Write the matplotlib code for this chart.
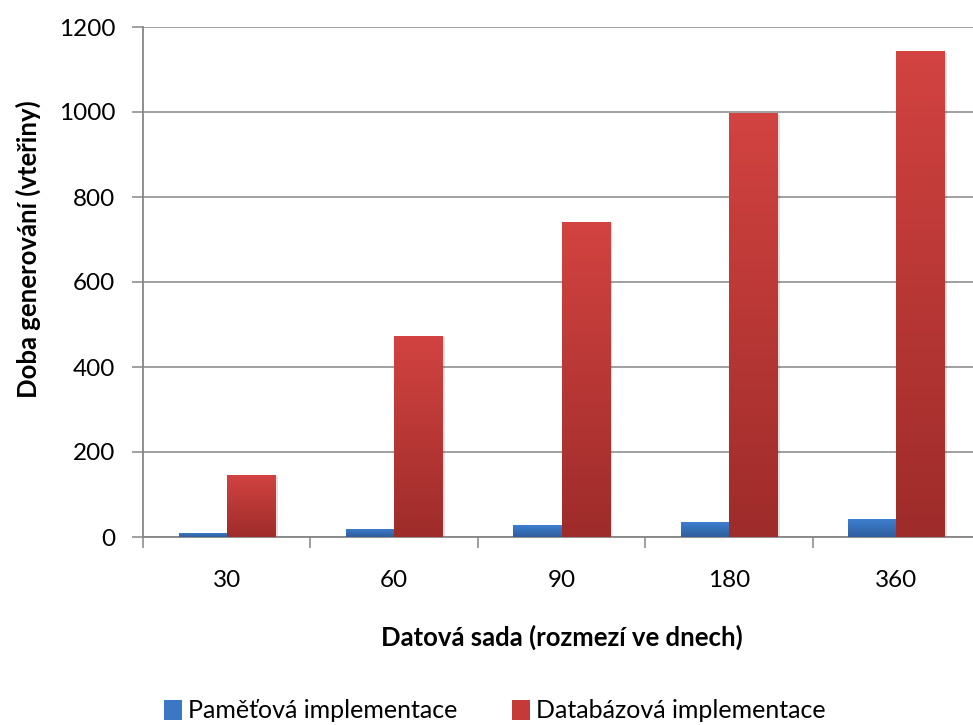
import numpy as np
import matplotlib
matplotlib.use("Agg")
import matplotlib.pyplot as plt
from matplotlib.colors import LinearSegmentedColormap
from matplotlib.patches import Patch
import matplotlib.patheffects as pe

plt.rcParams["font.family"] = ["Lato", "DejaVu Sans"]

categories = ["30", "60", "90", "180", "360"]
pametova = [10, 19, 28, 35, 42]
databazova = [146, 473, 741, 997, 1143]

series_names = ["Paměťová implementace", "Databázová implementace"]
blue_grad = ["#3d7fd0", "#2f5e9c"]
red_grad = ["#d24341", "#9e2c2a"]

AXIS_GRAY = "#868686"


def gradient_bars(ax, bars, colors):
    cmap = LinearSegmentedColormap.from_list("g", [colors[1], colors[0]])
    grad = np.linspace(0, 1, 256).reshape(-1, 1)
    for bar in bars:
        x0, y0 = bar.get_x(), bar.get_y()
        w, h = bar.get_width(), bar.get_height()
        bar.set_facecolor("none")
        bar.set_edgecolor("none")
        img = ax.imshow(grad, cmap=cmap, aspect="auto", origin="lower",
                        extent=(x0, x0 + w, y0, y0 + h), zorder=3,
                        interpolation="bilinear")
        img.set_clip_path(bar)


fig = plt.figure(figsize=(9.73, 7.25), dpi=100)
ax = fig.add_axes([143 / 973, 1 - 537 / 725, 837 / 973, 510 / 725])

x = np.arange(len(categories))
w = 0.287
b1 = ax.bar(x - w / 2, pametova, w, zorder=3)
b2 = ax.bar(x + w / 2, databazova, w, zorder=3)

# soft shadow behind the bars
for bars in (b1, b2):
    for bar in bars:
        sh = plt.Rectangle((bar.get_x(), 0), bar.get_width(), bar.get_height(),
                           facecolor="white", edgecolor="none", zorder=2.5,
                           path_effects=[pe.SimplePatchShadow(offset=(2, -1), shadow_rgbFace="#000000", alpha=0.12)])
        ax.add_patch(sh)

gradient_bars(ax, b1, blue_grad)
gradient_bars(ax, b2, red_grad)

ax.set_xlim(-0.5, len(categories) - 0.5)
ax.set_ylim(0, 1200)
ax.set_yticks(np.arange(0, 1201, 200))
ax.yaxis.grid(True, color=AXIS_GRAY, linewidth=1.1, zorder=0)
ax.set_axisbelow(True)

# category separators as ticks, labels placed in the middle
ax.set_xticks(np.arange(-0.5, len(categories), 1.0))
ax.set_xticklabels([])
ax.set_xticks(x, minor=True)
ax.set_xticklabels(categories, minor=True, fontsize=17.5)
ax.tick_params(axis="x", which="minor", length=0, pad=24)
ax.tick_params(axis="x", which="major", length=8, width=1.1, color=AXIS_GRAY)
ax.tick_params(axis="y", length=8, width=1.1, color=AXIS_GRAY, labelsize=17.5, pad=12)

for side in ("top", "right"):
    ax.spines[side].set_visible(False)
for side in ("left", "bottom"):
    ax.spines[side].set_color(AXIS_GRAY)
    ax.spines[side].set_linewidth(1.3)

ax.set_xlabel("Datová sada (rozmezí ve dnech)", fontsize=18.5, fontweight="bold", labelpad=24)
ax.set_ylabel("Doba generování (vteřiny)", fontsize=18.5, fontweight="bold", labelpad=13)
ax.yaxis.label.set_y(0.565)

handles = [Patch(facecolor="#3a78c6", edgecolor="none"), Patch(facecolor="#c43a38", edgecolor="none")]
fig.legend(handles, series_names, loc="center", bbox_to_anchor=(495 / 973, 1 - 711 / 725),
           ncol=2, frameon=False, fontsize=18, handlelength=0.7, handleheight=0.85,
           handletextpad=0.25, columnspacing=2.2, borderpad=0)

fig.savefig("out.png", dpi=100)
